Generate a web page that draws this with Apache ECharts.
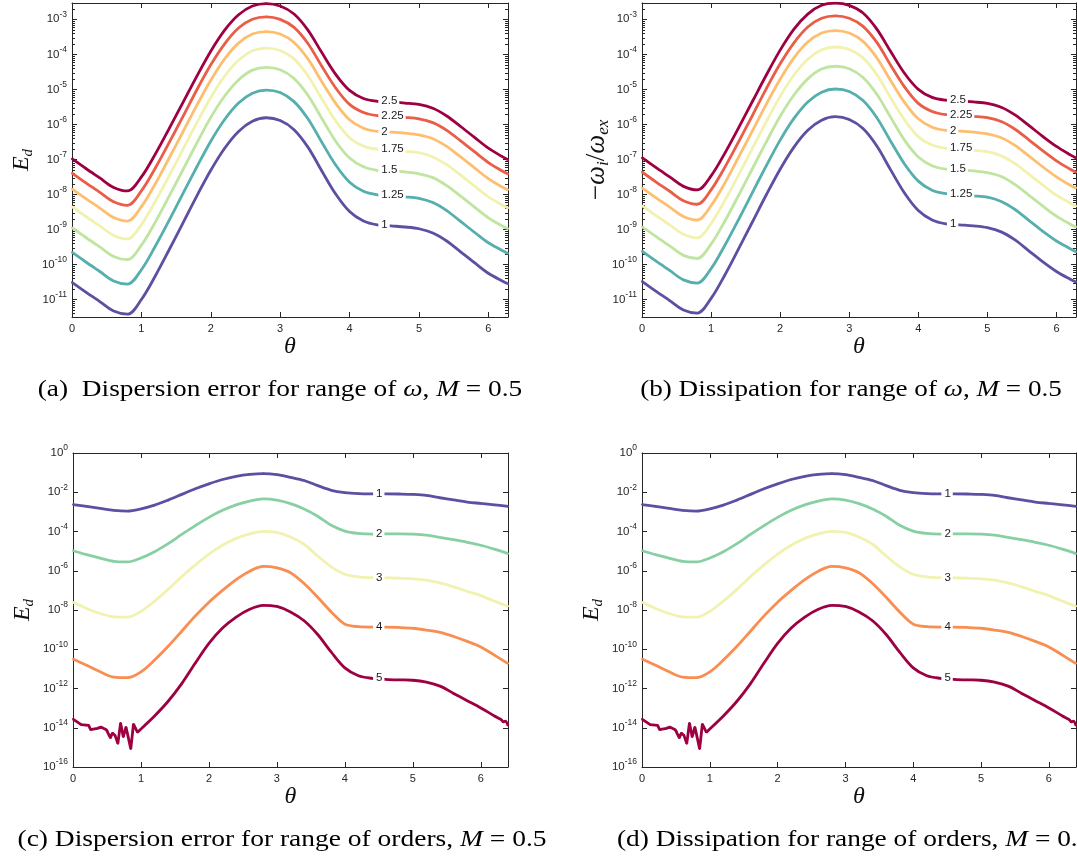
<!DOCTYPE html>
<html><head><meta charset="utf-8">
<script src="https://cdn.jsdelivr.net/npm/echarts/dist/echarts.min.js"></script>
<style>html,body{margin:0;padding:0;background:#fff}#c{width:1077px;height:860px}</style>
</head><body><div id="c"></div>
<script>
// ---- DATA (values are log10 of the plotted quantity) ----
const thetaA = [0, 0.2, 0.4, 0.6, 0.8, 1.0, 1.2, 1.4, 1.6, 1.8, 2.0, 2.2, 2.4, 2.6, 2.8, 3.0, 3.2, 3.4, 3.6, 3.8, 4.0, 4.2, 4.4, 4.6, 4.8, 5.0, 5.2, 5.4, 5.6, 5.8, 6.0, 6.2, 6.2832];
const omegaLabels = ['1', '1.25', '1.5', '1.75', '2', '2.25', '2.5'];
// panel (a): dispersion error E_d, one array per omega
const dispW100 = [-10.51,-10.79,-11.06,-11.33,-11.42,-11.00,-10.33,-9.58,-8.81,-8.04,-7.31,-6.68,-6.20,-5.91,-5.81,-5.89,-6.15,-6.65,-7.33,-7.99,-8.49,-8.76,-8.87,-8.90,-8.93,-8.98,-9.10,-9.33,-9.64,-9.95,-10.25,-10.47,-10.55];
const dispW125 = [-9.65,-9.93,-10.20,-10.47,-10.56,-10.15,-9.48,-8.74,-7.97,-7.21,-6.48,-5.86,-5.39,-5.11,-5.02,-5.09,-5.35,-5.84,-6.51,-7.16,-7.65,-7.91,-8.01,-8.04,-8.07,-8.11,-8.23,-8.46,-8.77,-9.08,-9.38,-9.60,-9.69];
const dispW150 = [-8.95,-9.23,-9.50,-9.77,-9.86,-9.45,-8.79,-8.05,-7.29,-6.53,-5.80,-5.19,-4.73,-4.45,-4.37,-4.44,-4.69,-5.17,-5.83,-6.48,-6.96,-7.21,-7.31,-7.33,-7.36,-7.41,-7.52,-7.75,-8.05,-8.36,-8.67,-8.90,-8.98];
const dispW175 = [-8.35,-8.63,-8.90,-9.17,-9.27,-8.86,-8.20,-7.47,-6.71,-5.95,-5.23,-4.62,-4.17,-3.90,-3.82,-3.89,-4.13,-4.61,-5.27,-5.90,-6.38,-6.62,-6.71,-6.74,-6.77,-6.81,-6.93,-7.15,-7.45,-7.76,-8.07,-8.30,-8.39];
const dispW200 = [-7.84,-8.12,-8.39,-8.66,-8.76,-8.35,-7.70,-6.96,-6.21,-5.45,-4.74,-4.13,-3.68,-3.42,-3.35,-3.42,-3.66,-4.13,-4.78,-5.40,-5.87,-6.11,-6.20,-6.22,-6.25,-6.30,-6.41,-6.63,-6.93,-7.24,-7.55,-7.79,-7.87];
const dispW225 = [-7.39,-7.67,-7.94,-8.21,-8.31,-7.90,-7.25,-6.52,-5.77,-5.01,-4.30,-3.70,-3.25,-3.00,-2.93,-3.00,-3.23,-3.69,-4.34,-4.96,-5.43,-5.66,-5.75,-5.77,-5.80,-5.84,-5.95,-6.17,-6.47,-6.78,-7.09,-7.33,-7.42];
const dispW250 = [-6.98,-7.26,-7.53,-7.80,-7.90,-7.50,-6.85,-6.12,-5.37,-4.62,-3.91,-3.31,-2.87,-2.62,-2.55,-2.62,-2.85,-3.31,-3.95,-4.57,-5.03,-5.26,-5.34,-5.36,-5.39,-5.43,-5.54,-5.76,-6.06,-6.37,-6.68,-6.92,-7.01];
// panel (b): dissipation -omega_i/omega_ex
const dissW100 = [-10.48,-10.76,-11.03,-11.30,-11.39,-10.97,-10.30,-9.55,-8.78,-8.01,-7.28,-6.65,-6.17,-5.88,-5.78,-5.86,-6.12,-6.62,-7.30,-7.96,-8.46,-8.73,-8.84,-8.87,-8.90,-8.95,-9.07,-9.30,-9.61,-9.92,-10.20,-10.42,-10.50];
const dissW125 = [-9.62,-9.90,-10.17,-10.44,-10.53,-10.12,-9.45,-8.71,-7.94,-7.18,-6.45,-5.83,-5.36,-5.08,-4.99,-5.06,-5.32,-5.81,-6.48,-7.13,-7.62,-7.88,-7.98,-8.01,-8.04,-8.08,-8.20,-8.43,-8.74,-9.05,-9.33,-9.55,-9.64];
const dissW150 = [-8.92,-9.20,-9.47,-9.74,-9.83,-9.42,-8.76,-8.02,-7.26,-6.50,-5.77,-5.16,-4.70,-4.42,-4.34,-4.41,-4.66,-5.14,-5.80,-6.45,-6.93,-7.18,-7.28,-7.30,-7.33,-7.38,-7.49,-7.72,-8.02,-8.33,-8.62,-8.85,-8.93];
const dissW175 = [-8.32,-8.60,-8.87,-9.14,-9.24,-8.83,-8.17,-7.44,-6.68,-5.92,-5.20,-4.59,-4.14,-3.87,-3.79,-3.86,-4.10,-4.58,-5.24,-5.87,-6.35,-6.59,-6.68,-6.71,-6.74,-6.78,-6.90,-7.12,-7.42,-7.73,-8.02,-8.25,-8.34];
const dissW200 = [-7.81,-8.09,-8.36,-8.63,-8.73,-8.32,-7.67,-6.93,-6.18,-5.42,-4.71,-4.10,-3.65,-3.39,-3.32,-3.39,-3.63,-4.10,-4.75,-5.37,-5.84,-6.08,-6.17,-6.19,-6.22,-6.27,-6.38,-6.60,-6.90,-7.21,-7.50,-7.74,-7.82];
const dissW225 = [-7.36,-7.64,-7.91,-8.18,-8.28,-7.87,-7.22,-6.49,-5.74,-4.98,-4.27,-3.67,-3.22,-2.97,-2.90,-2.97,-3.20,-3.66,-4.31,-4.93,-5.40,-5.63,-5.72,-5.74,-5.77,-5.81,-5.92,-6.14,-6.44,-6.75,-7.04,-7.28,-7.37];
const dissW250 = [-6.95,-7.23,-7.50,-7.77,-7.87,-7.47,-6.82,-6.09,-5.34,-4.59,-3.88,-3.28,-2.85,-2.60,-2.54,-2.60,-2.82,-3.28,-3.92,-4.54,-5.00,-5.23,-5.31,-5.33,-5.36,-5.40,-5.51,-5.73,-6.03,-6.34,-6.63,-6.87,-6.96];
// panels (c),(d): range of orders
const thetaC = [0, 0.2, 0.4, 0.6, 0.8, 1.0, 1.2, 1.4, 1.6, 1.8, 2.0, 2.2, 2.4, 2.6, 2.8, 3.0, 3.2, 3.4, 3.6, 3.8, 4.0, 4.2, 4.4, 4.6, 4.8, 5.0, 5.2, 5.4, 5.6, 5.8, 6.0, 6.2, 6.4];
const orderLabels = ['1', '2', '3', '4', '5'];
const order1 = [-2.63,-2.72,-2.82,-2.92,-2.96,-2.85,-2.66,-2.40,-2.11,-1.82,-1.57,-1.35,-1.19,-1.09,-1.05,-1.10,-1.24,-1.40,-1.66,-1.90,-2.02,-2.07,-2.08,-2.08,-2.09,-2.11,-2.16,-2.28,-2.39,-2.50,-2.57,-2.64,-2.72];
const order2 = [-4.98,-5.18,-5.36,-5.52,-5.55,-5.35,-5.03,-4.62,-4.15,-3.70,-3.28,-2.92,-2.64,-2.45,-2.34,-2.40,-2.58,-2.85,-3.22,-3.68,-3.98,-4.10,-4.13,-4.12,-4.12,-4.13,-4.18,-4.30,-4.42,-4.55,-4.70,-4.90,-5.13];
const order3 = [-7.61,-7.92,-8.18,-8.35,-8.36,-8.07,-7.55,-6.95,-6.30,-5.70,-5.15,-4.70,-4.35,-4.12,-3.99,-4.05,-4.28,-4.65,-5.25,-5.80,-6.18,-6.31,-6.35,-6.36,-6.38,-6.41,-6.48,-6.62,-6.82,-7.05,-7.27,-7.55,-7.81];
const order4 = [-10.50,-10.82,-11.15,-11.42,-11.45,-11.15,-10.55,-9.85,-9.08,-8.30,-7.60,-7.00,-6.45,-6.02,-5.78,-5.85,-6.10,-6.65,-7.35,-8.10,-8.72,-8.85,-8.87,-8.87,-8.89,-8.93,-9.02,-9.14,-9.35,-9.60,-9.88,-10.30,-10.73];
// order 5: noisy round-off part and smooth part
const theta5Noisy = [0, 0.12, 0.23, 0.26, 0.36, 0.41, 0.49, 0.51, 0.55, 0.58, 0.62, 0.66, 0.70, 0.74, 0.78, 0.81, 0.85, 0.89, 0.93, 0.95, 1.0];
const order5Noisy = [-13.56,-13.84,-13.88,-14.10,-14.03,-13.96,-14.10,-14.18,-14.52,-14.27,-14.40,-14.81,-13.76,-14.47,-13.96,-14.44,-15.08,-13.81,-14.10,-14.23,-14.06];
const theta5Smooth = [1.0, 1.2, 1.4, 1.6, 1.8, 2.0, 2.2, 2.4, 2.6, 2.8, 3.0, 3.2, 3.4, 3.6, 3.8, 4.0, 4.2, 4.4, 4.6, 4.8, 5.0, 5.2, 5.4, 5.6, 5.8, 6.0, 6.2, 6.3, 6.33, 6.36, 6.4];
const order5Smooth = [-14.06,-13.40,-12.65,-11.75,-10.70,-9.70,-8.92,-8.36,-7.96,-7.76,-7.82,-8.10,-8.55,-9.25,-10.15,-10.95,-11.35,-11.48,-11.53,-11.56,-11.58,-11.68,-11.88,-12.25,-12.62,-12.99,-13.40,-13.59,-13.70,-13.66,-13.88];
const xTicks = [0, 1, 2, 3, 4, 5, 6];

// ---- STYLE ----
const omegaColors = ['#5e4fa2', '#55afad', '#bfe5a0', '#f2f2b0', '#fdbf6f', '#ea5d47', '#9e0142'];
const orderColors = ['#5e4fa2', '#88d0a4', '#f2f2b0', '#f98e52', '#9e0142'];
const AX = '#262626';
const LABEL_X = 4.4;

const grids = [
  {left: 72, top: 3, width: 436, height: 314},
  {left: 642, top: 3, width: 434, height: 314},
  {left: 73, top: 453, width: 435, height: 314},
  {left: 642, top: 453, width: 434, height: 314}
];
const panelY = [
  {min: -11.5, max: -2.534, split: 9, interval: null},
  {min: -11.5, max: -2.534, split: 9, interval: null},
  {min: -16, max: 0, split: 8, interval: 2},
  {min: -16, max: 0, split: 8, interval: 2}
];
const panelXMax = [6.2832, 6.2832, 6.4, 6.4];
const yNames = ['{m|E}{sub|d}', '{u|−}{m|ω}{sub|i}{u|/}{m|ω}{sub|ex}', '{m|E}{sub|d}', '{m|E}{sub|d}'];
const yNameGap = [36, 30, 36, 36];

const isInt = v => Math.abs(v - Math.round(v)) < 1e-6;
const tickLine = {inside: true, length: 5, lineStyle: {color: AX, width: 1}};
const axLine = {show: true, onZero: false, lineStyle: {color: AX, width: 1}};
function serifName(size, sub) {
  return {
    color: AX,
    rich: {
      m: {fontFamily: 'Liberation Serif', fontStyle: 'italic', fontSize: size, color: '#111', lineHeight: size + 4},
      u: {fontFamily: 'Liberation Serif', fontSize: size, color: '#111', lineHeight: size + 4},
      sub: {fontFamily: 'Liberation Serif', fontStyle: 'italic', fontSize: sub, color: '#111', verticalAlign: 'bottom', lineHeight: sub}
    }
  };
}
const yNameStyles = [serifName(24, 15), serifName(27, 17), serifName(24, 15), serifName(24, 15)];

const xAxis = [], yAxis = [], series = [];
grids.forEach((g, i) => {
  const xmax = panelXMax[i];
  const py = panelY[i];
  xAxis.push({
    type: 'value', gridIndex: i, min: 0, max: xmax, interval: 1, position: 'bottom',
    axisLine: axLine, axisTick: tickLine, splitLine: {show: false},
    axisLabel: {margin: 6, fontSize: 11, fontFamily: 'Liberation Sans', color: AX,
      formatter: v => (isInt(v) && xTicks.includes(Math.round(v))) ? String(Math.round(v)) : ''},
    name: '{m|θ}', nameLocation: 'middle', nameGap: 16, nameMoveOverlap: false, nameTextStyle: serifName(24, 15)
  });
  xAxis.push({
    type: 'value', gridIndex: i, min: 0, max: xmax, interval: 1, position: 'top',
    axisLine: axLine, axisTick: tickLine, splitLine: {show: false}, axisLabel: {show: false}
  });
  const yBase = {
    type: 'value', gridIndex: i, min: py.min, max: py.max, splitNumber: py.split,
    axisLine: axLine, axisTick: tickLine, splitLine: {show: false}
  };
  if (py.interval) yBase.interval = py.interval;
  yAxis.push(Object.assign({}, yBase, {
    position: 'left',
    axisLabel: {margin: 5, color: AX,
      formatter: v => isInt(v) ? '{b|10}{s|' + Math.round(v) + '}' : '',
      rich: {
        b: {fontSize: 11.5, fontFamily: 'Liberation Sans', color: AX, lineHeight: 19},
        s: {fontSize: 8.5, fontFamily: 'Liberation Sans', color: AX, verticalAlign: 'top', lineHeight: 10}
      }},
    name: yNames[i], nameLocation: 'middle', nameGap: yNameGap[i], nameMoveOverlap: false, nameTextStyle: yNameStyles[i]
  }));
  yAxis.push(Object.assign({}, yBase, {position: 'right', axisLabel: {show: false}}));
});

function makeLine(panel, thetas, vals, color, label, smooth) {
  return {
    type: 'line', xAxisIndex: 2 * panel, yAxisIndex: 2 * panel,
    smooth: smooth ? 0.33 : false, symbol: 'circle', symbolSize: 2, showSymbol: true,
    silent: true, animation: false,
    lineStyle: {color: color, width: 2.8}, itemStyle: {color: color},
    emphasis: {disabled: true},
    data: thetas.map((t, k) => {
      if (label && Math.abs(t - LABEL_X) < 1e-9) {
        return {value: [t, vals[k]], label: {
          show: true, position: 'right', distance: 0, formatter: label,
          backgroundColor: '#fff', padding: [1, 2, 0, 3], color: '#1a1a1a',
          fontSize: 11.5, fontFamily: 'Liberation Sans', lineHeight: 12
        }};
      }
      return [t, vals[k]];
    })
  };
}

const aSets = [dispW100, dispW125, dispW150, dispW175, dispW200, dispW225, dispW250];
const bSets = [dissW100, dissW125, dissW150, dissW175, dissW200, dissW225, dissW250];
aSets.forEach((v, j) => series.push(makeLine(0, thetaA, v, omegaColors[j], omegaLabels[j], true)));
bSets.forEach((v, j) => series.push(makeLine(1, thetaA, v, omegaColors[j], omegaLabels[j], true)));
const cSets = [order1, order2, order3, order4];
[2, 3].forEach(p => {
  cSets.forEach((v, j) => series.push(makeLine(p, thetaC, v, orderColors[j], orderLabels[j], true)));
  series.push(makeLine(p, theta5Noisy, order5Noisy, orderColors[4], null, false));
  series.push(makeLine(p, theta5Smooth, order5Smooth, orderColors[4], orderLabels[4], true));
});

// minor (log) ticks for panels a, b
function minorPositions(lo, hi) {
  const out = [];
  for (let n = Math.floor(lo); n <= Math.ceil(hi); n++) {
    for (let k = 2; k <= 9; k++) { const v = n + Math.log10(k); if (v > lo && v < hi) out.push([0, v]); }
  }
  return out;
}
[0, 1].forEach(p => {
  const xmax = panelXMax[p];
  series.push({
    type: 'custom', xAxisIndex: 2 * p, yAxisIndex: 2 * p, silent: true, clip: false, animation: false,
    data: minorPositions(panelY[p].min, panelY[p].max),
    renderItem: (params, api) => {
      const y = api.value(1);
      const a = api.coord([0, y]), b = api.coord([xmax, y]);
      const yy = Math.round(a[1]) + 0.5;
      return {type: 'group', children: [
        {type: 'line', shape: {x1: a[0], y1: yy, x2: a[0] + 3, y2: yy}, style: {stroke: AX, lineWidth: 1}},
        {type: 'line', shape: {x1: b[0] - 3, y1: yy, x2: b[0], y2: yy}, style: {stroke: AX, lineWidth: 1}}
      ]};
    }
  });
});

const capFont = '24px "Liberation Serif"';
const capRich = {i: {fontFamily: 'Liberation Serif', fontStyle: 'italic', fontSize: 24, fill: '#000'}};
function caption(text, x, y, align, sx) {
  return {type: 'text', x: x, y: y, scaleX: sx, silent: true,
    style: {text: text, font: capFont, fill: '#000', align: align, verticalAlign: 'middle',
      textAlign: align, textVerticalAlign: 'middle', rich: capRich}};
}

const chart = echarts.init(document.getElementById('c'), null, {renderer: 'canvas'});
chart.setOption({
  animation: false,
  backgroundColor: '#fff',
  grid: grids.map(g => Object.assign({containLabel: false, outerBoundsMode: 'none'}, g)),
  xAxis: xAxis, yAxis: yAxis, series: series,
  graphic: [
    caption('(a)  Dispersion error for range of {i|ω}, {i|M} = 0.5', 280, 390, 'center', 1.14),
    caption('(b) Dissipation for range of {i|ω}, {i|M} = 0.5', 851, 390, 'center', 1.13),
    caption('(c) Dispersion error for range of orders, {i|M} = 0.5', 282, 840, 'center', 1.145),
    caption('(d) Dissipation for range of orders, {i|M} = 0.5', 617, 840, 'left', 1.14)
  ]
});
</script></body></html>
